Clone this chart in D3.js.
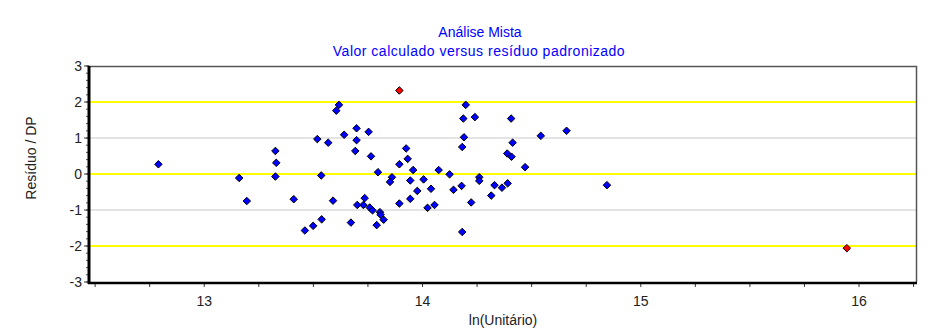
<!DOCTYPE html>
<html>
<head>
<meta charset="utf-8">
<script src="https://cdn.jsdelivr.net/npm/d3@7"></script>
<style>
  body { margin: 0; background: #fff; }
  text { font-family: "Liberation Sans", Arial, sans-serif; font-size: 14px; }
</style>
</head>
<body>
<div id="chart"></div>
<script>
// valores
var xVals = [12.79, 13.16, 13.195, 13.326, 13.33, 13.326, 13.41,
  13.617, 13.605, 13.518, 13.568, 13.641, 13.698, 13.698, 13.753, 13.692, 13.764,
  13.925, 13.932, 13.894, 13.796, 13.957, 13.536, 13.86, 13.851, 13.944, 14.005,
  14.074, 14.124, 14.039, 13.976, 14.142, 14.179, 13.59, 13.735, 13.701, 13.729,
  13.758, 13.771, 13.805, 13.808, 13.822, 13.79, 13.672, 13.894, 13.944, 14.023,
  14.055, 13.461, 13.499, 13.538, 14.182, 14.182,
  14.198, 14.187, 14.24, 14.406, 14.19, 14.542, 14.66, 14.413, 14.388, 14.408,
  14.47, 14.26, 14.26, 14.33, 14.364, 14.39, 14.315, 14.223, 14.845];
var yVals = [0.27, -0.11, -0.75, 0.64, 0.31, -0.07, -0.70,
  1.92, 1.76, 0.97, 0.87, 1.09, 1.27, 0.94, 1.17, 0.64, 0.49,
  0.71, 0.42, 0.27, 0.05, 0.11, -0.04, -0.09, -0.22, -0.18, -0.15,
  0.11, -0.01, -0.41, -0.47, -0.44, -0.33, -0.74, -0.67, -0.86, -0.86,
  -0.93, -1.01, -1.06, -1.13, -1.27, -1.42, -1.35, -0.82, -0.69, -0.94,
  -0.86, -1.57, -1.44, -1.26, -1.61, 0.75,
  1.92, 1.54, 1.58, 1.54, 1.02, 1.06, 1.20, 0.87, 0.57, 0.48,
  0.19, -0.09, -0.19, -0.31, -0.38, -0.26, -0.60, -0.79, -0.31];
// pontos discrepantes (vermelhos)
var outX = [13.894, 15.944];
var outY = [2.32, -2.06];

var xTicks = [13, 14, 15, 16];
var yTicks = [-3, -2, -1, 0, 1, 2, 3];
var yellowLines = [-2, 0, 2];
var greyLines = [-1, 1];

!(function (d3) {

var W = 931, H = 334;
var pl = 89, pr = 916, pt = 66, pb = 282;

var svg = d3.select("#chart").append("svg")
  .attr("width", W).attr("height", H);

var x = d3.scaleLinear().domain([12.472, 16.261]).range([pl, pr]);
var y = d3.scaleLinear().domain([-3, 3]).range([pb, pt]);

// titulo
svg.append("text").attr("x", 480).attr("y", 37)
  .attr("text-anchor", "middle").attr("fill", "#0000ff")
  .text("Análise Mista");
svg.append("text").attr("x", 479).attr("y", 56)
  .attr("text-anchor", "middle").attr("fill", "#0000ff")
  .style("letter-spacing", "0.5px")
  .text("Valor calculado versus resíduo padronizado");

// linhas de grade
svg.selectAll(".grey").data(greyLines).enter().append("line")
  .attr("x1", pl).attr("x2", pr)
  .attr("y1", function(d) { return y(d); }).attr("y2", function(d) { return y(d); })
  .attr("stroke", "#c8c8c8").attr("stroke-width", 1);
svg.selectAll(".yel").data(yellowLines).enter().append("line")
  .attr("x1", pl).attr("x2", pr)
  .attr("y1", function(d) { return y(d); }).attr("y2", function(d) { return y(d); })
  .attr("stroke", "#ffff00").attr("stroke-width", 2);

// bordas superior e direita
svg.append("path")
  .attr("d", "M" + pl + "," + (pt + 0.5) + "H" + (pr + 0.5) + "V" + pb)
  .attr("fill", "none").attr("stroke", "#555").attr("stroke-width", 1.5);

// eixo x
var xMinor = d3.range(12.5, 16.26, 0.25);
svg.selectAll(".xt").data(xMinor).enter().append("line")
  .attr("x1", function(d) { return x(d); }).attr("x2", function(d) { return x(d); })
  .attr("y1", pb).attr("y2", pb + 5)
  .attr("stroke", "#333").attr("stroke-width", 1);
svg.append("line").attr("x1", pl - 1).attr("x2", pr + 1)
  .attr("y1", pb + 1).attr("y2", pb + 1)
  .attr("stroke", "#000").attr("stroke-width", 2.5);
svg.selectAll(".xl").data(xTicks).enter().append("text")
  .attr("x", function(d) { return x(d); }).attr("y", 306)
  .attr("text-anchor", "middle").attr("fill", "#222")
  .text(function(d) { return d; });
svg.append("text").attr("x", 503).attr("y", 325)
  .attr("text-anchor", "middle").attr("fill", "#222")
  .text("ln(Unitário)");

// eixo y
var yMinor = d3.range(-3, 3.01, 0.2);
svg.selectAll(".ym").data(yMinor).enter().append("line")
  .attr("x1", pl - 3).attr("x2", pl)
  .attr("y1", function(d) { return y(d); }).attr("y2", function(d) { return y(d); })
  .attr("stroke", "#555").attr("stroke-width", 1);
svg.selectAll(".yt").data(yTicks).enter().append("line")
  .attr("x1", pl - 5).attr("x2", pl)
  .attr("y1", function(d) { return y(d); }).attr("y2", function(d) { return y(d); })
  .attr("stroke", "#333").attr("stroke-width", 1);
svg.append("line").attr("x1", pl).attr("x2", pl)
  .attr("y1", pt).attr("y2", pb + 2)
  .attr("stroke", "#000").attr("stroke-width", 3);
svg.selectAll(".yl").data(yTicks).enter().append("text")
  .attr("x", 82).attr("y", function(d) { return y(d) + 5; })
  .attr("text-anchor", "end").attr("fill", "#222")
  .text(function(d) { return d; });
svg.append("text")
  .attr("transform", "translate(36,158) rotate(-90)")
  .attr("text-anchor", "middle").attr("fill", "#222")
  .text("Resíduo / DP");

// pontos
var diamond = d3.symbol().type(d3.symbolDiamond2).size(36);
var pts = xVals.map(function(v, i) { return { x: v, y: yVals[i] }; });
svg.selectAll(".dot").data(pts).enter().append("path")
  .attr("d", diamond)
  .attr("transform", function(d) { return "translate(" + x(d.x) + "," + y(d.y) + ")"; })
  .attr("fill", "#0000ff").attr("stroke", "#000").attr("stroke-width", 1);
var outs = outX.map(function(v, i) { return { x: v, y: outY[i] }; });
svg.selectAll(".out").data(outs).enter().append("path")
  .attr("d", diamond)
  .attr("transform", function(d) { return "translate(" + x(d.x) + "," + y(d.y) + ")"; })
  .attr("fill", "#ff0000").attr("stroke", "#000").attr("stroke-width", 1);

})(d3);
</script>
</body>
</html>
